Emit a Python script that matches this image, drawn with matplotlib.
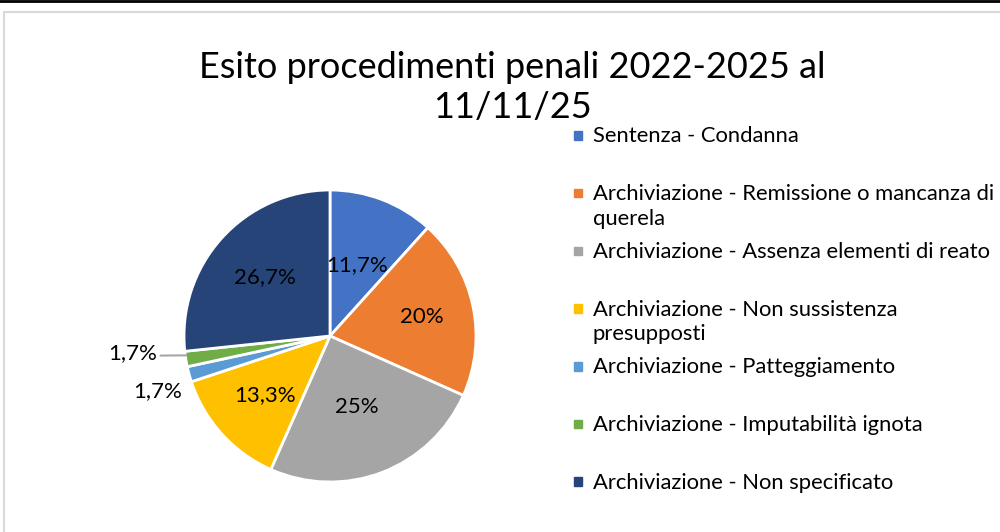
import numpy as np
import matplotlib.pyplot as plt
from matplotlib.patches import Rectangle
from matplotlib.lines import Line2D

plt.rcParams['font.family'] = ['Lato', 'DejaVu Sans']

# data (share of proceedings, %)
categories = [
    'Sentenza - Condanna',
    'Archiviazione - Remissione o mancanza di\nquerela',
    'Archiviazione - Assenza elementi di reato',
    'Archiviazione - Non sussistenza\npresupposti',
    'Archiviazione - Patteggiamento',
    'Archiviazione - Imputabilità ignota',
    'Archiviazione - Non specificato',
]
shares = [11.7, 20, 25, 13.3, 1.7, 1.7, 26.7]
colors = ['#4472C4', '#ED7D31', '#A5A5A5', '#FFC000', '#5B9BD5', '#70AD47', '#264478']
label_dist = [0.52, 0.64, 0.52, 0.6, 1.24, 1.36, 0.6]
label_turn = [0, 0, 0, 0, 2.5, -4, 0]   # degrees, outside labels sit a bit off-centre


def fmt(v):
    s = ('%.1f' % v).rstrip('0').rstrip('.')
    return s.replace('.', ',') + '%'


fig = plt.figure(figsize=(10, 5.32), dpi=100)

# frame of the chart area + black line on top
fig.patches.append(Rectangle((0.004, -0.05), 1.1, 1 - 12 / 532 + 0.05,
                             transform=fig.transFigure, fill=False,
                             edgecolor='#d9d9d9', linewidth=1.5))
fig.lines.append(Line2D([0, 1], [0.999, 0.999], transform=fig.transFigure,
                        color='black', linewidth=2))

# pie axes: centre ~(330, 336) px, radius ~146 px
L = 1.4
cx, cy, r = 330, 532 - 336, 146
ax = fig.add_axes([(cx - r * L) / 1000, (cy - r * L) / 532, 2 * r * L / 1000, 2 * r * L / 532])
wedges, _ = ax.pie(shares, colors=colors, startangle=90, counterclock=False,
                   wedgeprops=dict(edgecolor='white', linewidth=2))
ax.set_xlim(-L, L)
ax.set_ylim(-L, L)
ax.set_aspect('equal')
ax.axis('off')

for i, w in enumerate(wedges):
    ang = np.deg2rad((w.theta1 + w.theta2) / 2 + label_turn[i])
    d = label_dist[i]
    x, y = d * np.cos(ang), d * np.sin(ang)
    if i == 5:
        ax.annotate(fmt(shares[i]), xy=(-0.985, y - 0.012), xytext=(x, y),
                    ha='center', va='center', fontsize=16,
                    arrowprops=dict(arrowstyle='-', color='#a6a6a6', lw=1.5,
                                    shrinkA=0, shrinkB=0, relpos=(1.08, 0.4)))
    else:
        ax.text(x, y, fmt(shares[i]), ha='center', va='center', fontsize=16)

fig.text(0.512, 1 - 68 / 532, 'Esito procedimenti penali 2022-2025 al',
         ha='center', va='center', fontsize=26)
fig.text(0.512, 1 - 108 / 532, '11/11/25', ha='center', va='center', fontsize=26)

# legend, equal row height like the original
for i, (lab, c) in enumerate(zip(categories, colors)):
    y = 1 - (135 + 57.7 * i) / 532
    fig.patches.append(Rectangle((0.5735, y - 0.009), 0.0085, 0.016,
                                 transform=fig.transFigure, color=c))
    fig.text(0.593, y + 0.016, lab, ha='left', va='top', fontsize=15.8,
             linespacing=1.3, transform=fig.transFigure)

fig.savefig('out.png', dpi=100)
